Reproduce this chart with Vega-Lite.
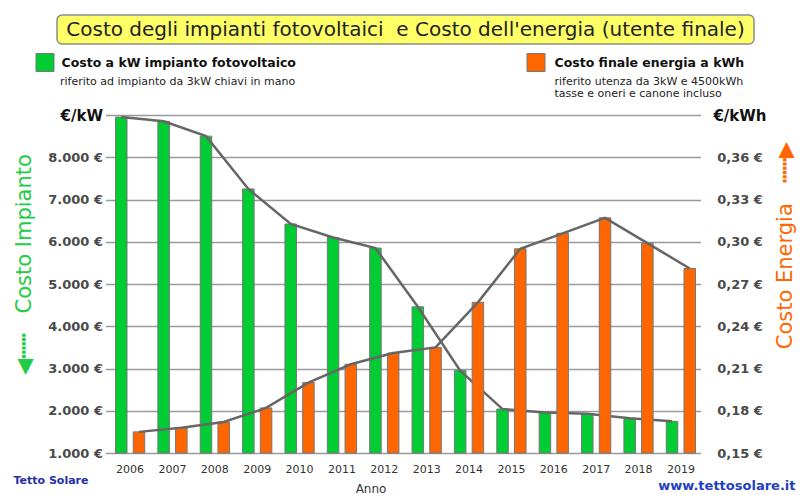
{
  "$schema": "https://vega.github.io/schema/vega-lite/v6.json",
  "padding": {"left": 13, "top": 14, "right": 7, "bottom": 2},
  "background": "white",
  "config": {
    "view": {"stroke": null},
    "font": "DejaVu Sans"
  },
  "title": {"text": "Tetto Solare", "orient": "bottom", "anchor": "start", "frame": "bounds", "offset": -19, "color": "#1f2fa8", "fontSize": 11, "fontWeight": "bold", "font": "DejaVu Sans"},
  "vconcat": [
    {
      "width": 697,
      "height": 29,
      "view": {"fill": "#ffff66", "stroke": "#8c8c8c", "strokeWidth": 1.5, "cornerRadius": 5},
      "data": {"values": [{"titolo": "Costo degli impianti fotovoltaici \u00a0e Costo dell'energia (utente finale)"}]},
      "mark": {"type": "text", "font": "DejaVu Sans", "fontSize": 20, "color": "#222222"},
      "encoding": {"text": {"field": "titolo", "type": "nominal"}}
    },
    {
      "width": 590,
      "height": 338,
      "title": {"text": "www.tettosolare.it", "orient": "bottom", "anchor": "end", "color": "#1f3fbf", "fontSize": 13, "fontWeight": "bold", "font": "DejaVu Sans", "offset": -14},
      "data": {"values": [
        {"anno": "2006", "serie": "impianto", "costo": 8950},
        {"anno": "2007", "serie": "impianto", "costo": 8850},
        {"anno": "2008", "serie": "impianto", "costo": 8500},
        {"anno": "2009", "serie": "impianto", "costo": 7250},
        {"anno": "2010", "serie": "impianto", "costo": 6420},
        {"anno": "2011", "serie": "impianto", "costo": 6100},
        {"anno": "2012", "serie": "impianto", "costo": 5850},
        {"anno": "2013", "serie": "impianto", "costo": 4460},
        {"anno": "2014", "serie": "impianto", "costo": 2950},
        {"anno": "2015", "serie": "impianto", "costo": 2040},
        {"anno": "2016", "serie": "impianto", "costo": 1960},
        {"anno": "2017", "serie": "impianto", "costo": 1930},
        {"anno": "2018", "serie": "impianto", "costo": 1820},
        {"anno": "2019", "serie": "impianto", "costo": 1750},
        {"anno": "2006", "serie": "energia", "costo": 0.165},
        {"anno": "2007", "serie": "energia", "costo": 0.168},
        {"anno": "2008", "serie": "energia", "costo": 0.172},
        {"anno": "2009", "serie": "energia", "costo": 0.182},
        {"anno": "2010", "serie": "energia", "costo": 0.200},
        {"anno": "2011", "serie": "energia", "costo": 0.213},
        {"anno": "2012", "serie": "energia", "costo": 0.221},
        {"anno": "2013", "serie": "energia", "costo": 0.225},
        {"anno": "2014", "serie": "energia", "costo": 0.257},
        {"anno": "2015", "serie": "energia", "costo": 0.295},
        {"anno": "2016", "serie": "energia", "costo": 0.306},
        {"anno": "2017", "serie": "energia", "costo": 0.317},
        {"anno": "2018", "serie": "energia", "costo": 0.299},
        {"anno": "2019", "serie": "energia", "costo": 0.281}
      ]},
      "encoding": {
        "x": {
          "field": "anno", "type": "nominal", "sort": null,
          "scale": {"paddingInner": 0.31, "paddingOuter": 0.118},
          "axis": {
            "title": "Anno", "labelAngle": 0, "ticks": false, "domain": false, "grid": false,
            "labelFont": "DejaVu Sans", "labelFontSize": 11, "labelColor": "#333333", "labelPadding": 10,
            "titleFont": "DejaVu Sans", "titleFontSize": 12, "titleFontWeight": "normal", "titleColor": "#333333",
            "titleX": 260, "titleY": 35, "titleBaseline": "middle", "titleAlign": "center"
          }
        },
        "xOffset": {"field": "serie", "type": "nominal", "scale": {"domain": ["impianto", "energia"], "paddingInner": 0.35, "paddingOuter": 0}}
      },
      "layer": [
        {
          "transform": [{"filter": "datum.serie == 'impianto'"}],
          "encoding": {
            "y": {
              "field": "costo", "type": "quantitative",
              "scale": {"domain": [1000, 9000], "nice": false, "zero": false},
              "axis": {
                "orient": "left",
                "values": [1000, 2000, 3000, 4000, 5000, 6000, 7000, 8000, 9000],
                "labelExpr": "datum.value >= 9000 ? '€/kW' : replace(format(datum.value, ',.0f'), ',', '.') + ' €'",
                "grid": true, "gridColor": "#9a9a9a", "gridWidth": 1.5,
                "domain": false, "ticks": true, "tickSize": 5, "tickColor": "#9a9a9a", "tickWidth": 1.5,
                "labelPadding": 3, "labelFont": "DejaVu Sans",
                "labelFontSize": {"condition": {"test": "datum.value >= 9000", "value": 15}, "value": 13},
                "labelFontWeight": "bold",
                "labelColor": {"condition": {"test": "datum.value >= 9000", "value": "#111111"}, "value": "#4a4a4a"},
                "title": "◀┅┅\u00a0\u00a0\u00a0Costo Impianto",
                "titleColor": "#22cc44", "titleFont": "DejaVu Sans", "titleFontSize": 21, "titleFontWeight": "normal",
                "titleAngle": 270, "titleX": -86, "titleY": 149, "titleAlign": "center", "titleBaseline": "middle"
              }
            }
          },
          "layer": [
            {
              "mark": {"type": "bar", "stroke": "#777777", "strokeWidth": 1},
              "encoding": {
                "y2": {"datum": 1000},
                "color": {
                  "datum": "Costo a kW impianto fotovoltaico",
                  "scale": {"range": ["#00cc33"]},
                  "legend": {
                    "orient": "none", "legendX": -75, "legendY": -62, "padding": 0,
                    "symbolType": "square", "symbolSize": 324, "symbolStrokeColor": "#777777", "symbolStrokeWidth": 1, "symbolOpacity": 1,
                    "labelFont": "DejaVu Sans", "labelFontSize": 12.5, "labelFontWeight": "bold", "labelColor": "#111111", "labelOffset": 7, "labelLimit": 400,
                    "title": "\u200b\u00a0\u00a0\u00a0\u00a0\u00a0\u00a0\u00a0riferito ad impianto da 3kW chiavi in mano",
                    "titleOrient": "bottom", "titleFont": "DejaVu Sans", "titleFontSize": 11, "titleFontWeight": "normal", "titleColor": "#222222", "titlePadding": 2, "titleLimit": 500
                  }
                }
              }
            },
            {
              "mark": {"type": "line", "color": "#666666", "strokeWidth": 2.5},
              "encoding": {}
            }
          ]
        },
        {
          "transform": [{"filter": "datum.serie == 'energia'"}],
          "encoding": {
            "y": {
              "field": "costo", "type": "quantitative",
              "scale": {"domain": [0.15, 0.39], "nice": false, "zero": false},
              "axis": {
                "orient": "right",
                "values": [0.15, 0.18, 0.21, 0.24, 0.27, 0.3, 0.33, 0.36, 0.39],
                "labelExpr": "datum.value > 0.385 ? '€/kWh' : replace(format(datum.value, '.2f'), '.', ',') + ' €'",
                "grid": false, "domain": false, "ticks": false,
                "labelPadding": 39, "labelAlign": "center", "labelFont": "DejaVu Sans",
                "labelFontSize": {"condition": {"test": "datum.value > 0.385", "value": 15}, "value": 13},
                "labelFontWeight": "bold",
                "labelColor": {"condition": {"test": "datum.value > 0.385", "value": "#111111"}, "value": "#4a4a4a"},
                "title": "Costo Energia\u00a0\u00a0\u00a0┅┅▶",
                "titleColor": "#ff6600", "titleFont": "DejaVu Sans", "titleFontSize": 21, "titleFontWeight": "normal",
                "titleAngle": 270, "titleX": 85, "titleY": 130, "titleAlign": "center", "titleBaseline": "middle"
              }
            }
          },
          "layer": [
            {
              "mark": {"type": "bar", "stroke": "#777777", "strokeWidth": 1},
              "encoding": {
                "y2": {"datum": 0.15},
                "color": {
                  "datum": "Costo finale energia a kWh",
                  "scale": {"range": ["#ff6600"]},
                  "legend": {
                    "orient": "none", "legendX": 416, "legendY": -62, "padding": 0,
                    "symbolType": "square", "symbolSize": 324, "symbolStrokeColor": "#777777", "symbolStrokeWidth": 1, "symbolOpacity": 1,
                    "labelFont": "DejaVu Sans", "labelFontSize": 12.5, "labelFontWeight": "bold", "labelColor": "#111111", "labelOffset": 9, "labelLimit": 400,
                    "title": ["\u200b\u00a0\u00a0\u00a0\u00a0\u00a0\u00a0\u00a0\u00a0riferito utenza da 3kW e 4500kWh", "\u200b\u00a0\u00a0\u00a0\u00a0\u00a0\u00a0\u00a0\u00a0tasse e oneri e canone incluso"],
                    "titleOrient": "bottom", "titleFont": "DejaVu Sans", "titleFontSize": 11, "titleFontWeight": "normal", "titleColor": "#222222", "titlePadding": 2, "titleLineHeight": 12, "titleLimit": 500
                  }
                }
              }
            },
            {
              "mark": {"type": "line", "color": "#666666", "strokeWidth": 2.5},
              "encoding": {}
            }
          ]
        }
      ],
      "resolve": {"scale": {"y": "independent", "color": "independent"}}
    }
  ],
  "center": true,
  "bounds": "flush",
  "spacing": 71
}
